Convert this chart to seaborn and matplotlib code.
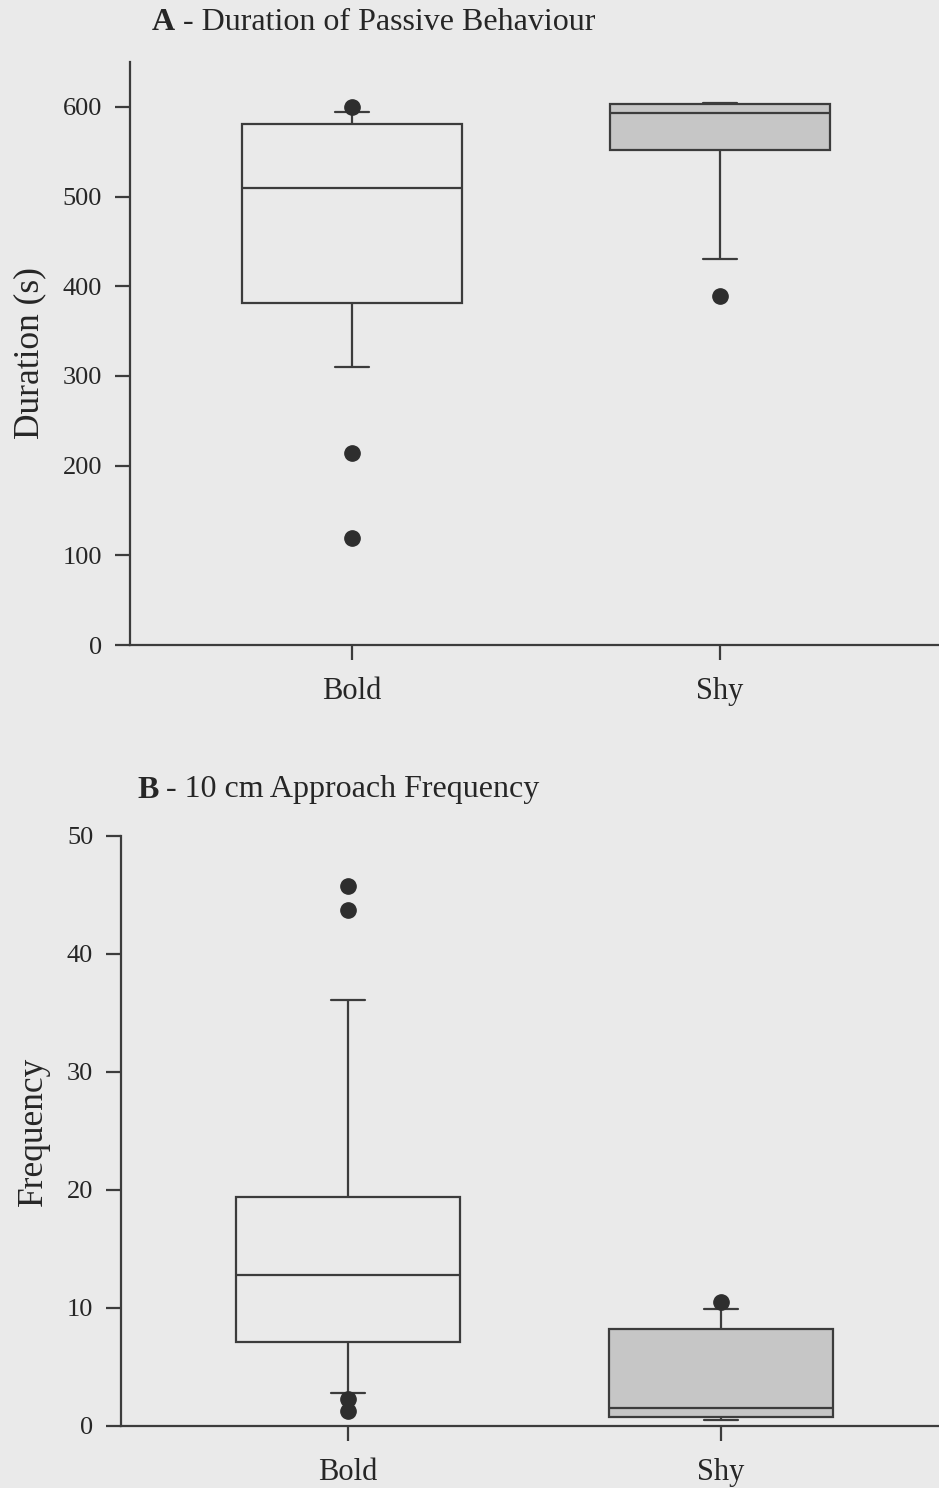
import numpy as np
import pandas as pd
import matplotlib
matplotlib.use("Agg")
import matplotlib.pyplot as plt
import seaborn as sns

# ---- data ----
groups = ["Bold", "Shy"]
passive_bold = [119, 214, 310, 335, 362, 381, 410, 440, 468, 490, 509,
                525, 540, 552, 566, 581, 585, 590, 594, 594, 600]
passive_shy = [389, 430, 430, 470, 520, 552, 565, 575, 582, 588, 593,
               596, 598, 600, 602, 603, 603, 604, 604, 604, 604]
approach_bold = [1.3, 2.3, 2.8, 4.5, 6.0, 7.1, 8.5, 9.8, 11.0, 12.0, 12.8,
                 14.0, 15.5, 17.0, 18.3, 19.4, 22.0, 27.0, 36.1, 43.7, 45.8]
approach_shy = [0.5, 0.5, 0.5, 0.6, 0.7, 0.8, 0.9, 1.0, 1.2, 1.3, 1.5,
                2.0, 3.0, 4.5, 6.0, 8.2, 8.8, 9.3, 9.9, 9.9, 10.5]
yticks_a = [0, 100, 200, 300, 400, 500, 600]
yticks_b = [0, 10, 20, 30, 40, 50]

BG = "#eaeaea"
LINE = "#3c3c3c"
DOT = "#2e2e2e"
SHY_FILL = "#c6c6c6"

sns.set_style("ticks")
plt.rcParams["font.family"] = ["Liberation Serif", "DejaVu Serif"]
plt.rcParams["axes.linewidth"] = 1.6

fig = plt.figure(figsize=(9.39, 14.88), dpi=100, facecolor=BG)

def make_df(b, s):
    return pd.DataFrame({"group": ["Bold"] * len(b) + ["Shy"] * len(s),
                         "value": list(b) + list(s)})

def panel(ax, df, yticks, ylim, xlim, ylabel):
    ax.set_facecolor(BG)
    sns.boxplot(data=df, x="group", y="value", hue="group", order=groups,
                hue_order=groups, palette={"Bold": BG, "Shy": SHY_FILL},
                width=0.6, whis=(10, 90), linecolor=LINE, linewidth=1.6,
                fliersize=11, capwidths=0.09, legend=False,
                flierprops=dict(marker="o", markerfacecolor=DOT,
                                markeredgecolor=DOT),
                ax=ax)
    ax.set_xlim(*xlim)
    ax.set_ylim(*ylim)
    ax.set_yticks(yticks)
    ax.set_xlabel("")
    ax.set_ylabel(ylabel, fontsize=25.5, labelpad=12)
    for side in ["top", "right"]:
        ax.spines[side].set_visible(False)
    for side in ["left", "bottom"]:
        ax.spines[side].set_color(LINE)
    ax.tick_params(axis="y", length=11, width=1.6, color=LINE, pad=9,
                   labelsize=19)
    ax.tick_params(axis="x", length=11, width=1.6, color=LINE, pad=12,
                   labelsize=22)

axA = fig.add_axes([130 / 939, 1 - 645 / 1488, 809 / 939, 583 / 1488])
panel(axA, make_df(passive_bold, passive_shy), yticks_a, (0, 650),
      (-0.603, 1.595), "Duration (s)")

axB = fig.add_axes([121 / 939, 1 - 1426 / 1488, 818 / 939, 590 / 1488])
panel(axB, make_df(approach_bold, approach_shy), yticks_b, (0, 50),
      (-0.609, 1.584), "Frequency")

tA = fig.text(152 / 939, 1 - 22 / 1488, "A", fontsize=23, fontweight="bold",
              va="center", ha="left")
axA.annotate(" - Duration of Passive Behaviour", xy=(1, 0.5), xycoords=tA,
             va="center", ha="left", fontsize=23, annotation_clip=False)
tB = fig.text(137 / 939, 1 - 790 / 1488, "B", fontsize=23, fontweight="bold",
              va="center", ha="left")
axB.annotate(" - 10 cm Approach Frequency", xy=(1, 0.5), xycoords=tB,
             va="center", ha="left", fontsize=23, annotation_clip=False)

fig.savefig("out.png", dpi=100, facecolor=BG)
